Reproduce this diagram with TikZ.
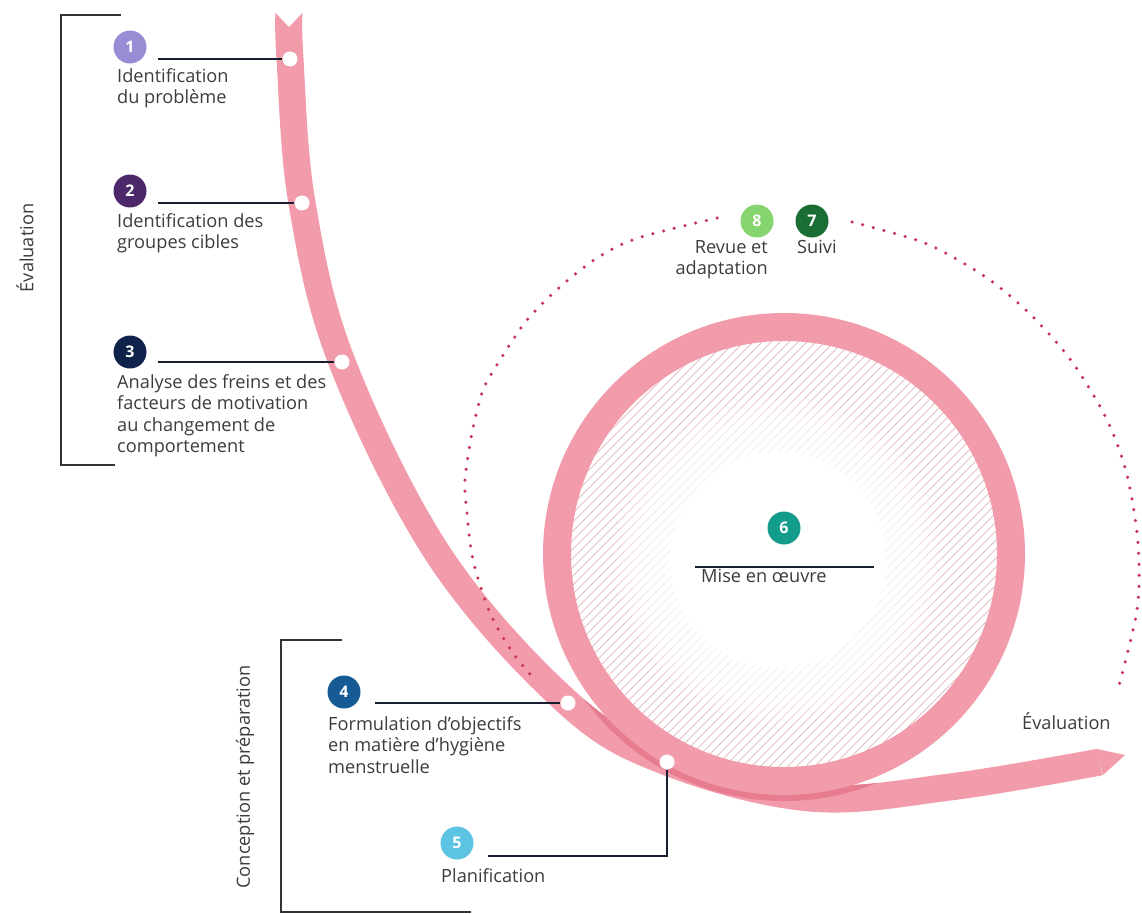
\documentclass[tikz,border=0pt]{standalone}
\usepackage{fontspec}
\setmainfont{Open Sans}
\definecolor{ribboncol}{RGB}{242,155,170}
\definecolor{shadecol}{RGB}{232,124,143}
\definecolor{hatchcol}{RGB}{228,190,197}
\definecolor{dotcol}{RGB}{200,52,82}
\definecolor{leadcol}{RGB}{24,30,50}
\definecolor{brackcol}{RGB}{50,50,50}
\definecolor{textgray}{RGB}{60,60,64}
\definecolor{bonecol}{RGB}{152,140,212}
\definecolor{btwocol}{RGB}{76,40,106}
\definecolor{bthreecol}{RGB}{14,34,74}
\definecolor{bfourcol}{RGB}{22,90,150}
\definecolor{bfivecol}{RGB}{92,196,226}
\definecolor{bsixcol}{RGB}{20,156,140}
\definecolor{bsevencol}{RGB}{26,110,52}
\definecolor{beightcol}{RGB}{134,212,110}

\begin{document}
\begin{tikzpicture}[x=1pt,y=-1pt,
    badge/.style={circle, fill=#1, text=white, minimum size=33pt, inner sep=0pt,
      font=\fontsize{16}{16}\selectfont\bfseries},
    txt/.style={inner sep=0pt, align=left, text=textgray,
      font=\fontsize{18.2}{21.6}\selectfont},
    knot/.style={circle, fill=white, minimum size=15pt, inner sep=0pt},
    leader/.style={draw=leadcol, line width=2pt},
    bracket/.style={draw=brackcol, line width=1.4pt},
    band/.style={line width=27pt},
    hatch/.style={draw=hatchcol, line width=1pt},
    dots/.style={draw=dotcol, line width=3.5pt, line cap=round, dash pattern=on 0pt off 11pt}]
  \useasboundingbox (0,0) rectangle (1142,913);

  \coordinate (c) at (784,554);
  \coordinate (c6) at (778,560);

  \begin{scope}
    \clip (c) circle (214);
    \foreach \i in {-50,...,50}
      \draw[hatch] (c) ++(\i*9,0) ++(-260,260) -- ++(520,-520);
  \end{scope}
  \fill[white] (c6) circle (108);
  \foreach \r in {112,116,...,164}
    \fill[white, opacity=0.13] (c6) circle (\r);

  \draw[band, draw=ribboncol] plot[smooth, tension=0.6] coordinates {(289,11) (290,59) (302,203) (342,362) (440,557) (568,703) (667,762) (810,798) (950,787) (1100,762)};
  \fill[white] (273,10) -- (305,10) -- (289,27) -- cycle;
  \fill[ribboncol] (1097,749) -- (1125,755) -- (1103,775) -- cycle;

  \begin{scope}
    \clip (c) circle (247);
    \clip (540,690) rectangle (900,830);
    \draw[band, draw=shadecol] plot[smooth, tension=0.6] coordinates {(289,11) (290,59) (302,203) (342,362) (440,557) (568,703) (667,762) (810,798) (950,787) (1100,762)};
  \end{scope}

  \draw[draw=ribboncol, line width=28pt] (c) circle (227);

  \draw[dots] plot[smooth] coordinates {(717,218) (638,238) (597,258) (560,287) (527,320) (500,360) (483,390) (472,433) (465,480) (467,513) (473,560) (490,613) (513,653) (537,682)};
  \draw[dots] plot[smooth] coordinates {(852,222) (907,237) (940,250) (990,280) (1033,317) (1073,363) (1107,420) (1127,475) (1138,543) (1137,610) (1117,693)};

  \draw[bracket] (121,15) -- (61,15) -- (61,465) -- (115,465);
  \draw[bracket] (342,640) -- (281,640) -- (281,912) -- (471,912);
  \node[txt, rotate=90] (ev) at (25,248) {Évaluation};
  \node[txt, rotate=90] (cp) at (245,777) {Conception et préparation};

  \node[knot] (k1) at (290,59) {};
  \node[knot] (k2) at (302,203) {};
  \node[knot] (k3) at (342,362) {};
  \node[knot] (k4) at (568,703) {};
  \node[knot] (k5) at (667,762) {};

  \coordinate (s1) at (158,59);
  \coordinate (s2) at (158,203);
  \coordinate (s3) at (158,362);
  \coordinate (s4) at (375,703);
  \coordinate (s5) at (488,856);
  \coordinate (s6) at (695,567);
  \coordinate (e6) at (874,567);

  \draw[leader] (s1) -- (k1.west);
  \draw[leader] (s2) -- (k2.west);
  \draw[leader] (s3) -- (k3.west);
  \draw[leader] (s4) -- (k4.west);
  \draw[leader] (s5) -| (k5.south);
  \draw[leader] (s6) -- (e6);

  \node[badge=bonecol] (b1) at (130,47) {1};
  \node[badge=btwocol] (b2) at (130,191) {2};
  \node[badge=bthreecol] (b3) at (130,352) {3};
  \node[badge=bfourcol] (b4) at (344,692) {4};
  \node[badge=bfivecol] (b5) at (457,843) {5};
  \node[badge=bsixcol] (b6) at (784,528) {6};
  \node[badge=bsevencol] (b7) at (812,221) {7};
  \node[badge=beightcol] (b8) at (757,221) {8};

  \node[txt, anchor=north west] (t1) at (117,68) {Identification\\du problème};
  \node[txt, anchor=north west] (t2) at (117,213) {Identification des\\groupes cibles};
  \node[txt, anchor=north west] (t3) at (117,374) {Analyse des freins et des\\facteurs de motivation\\au changement de\\comportement};
  \node[txt, anchor=north west] (t4) at (328,716) {Formulation d’objectifs\\en matière d’hygiène\\menstruelle};
  \node[txt, anchor=north west] (t5) at (441,868) {Planification};
  \node[txt, anchor=north west] (t6) at (701,569) {Mise en œuvre};
  \node[txt, anchor=north west] (t7) at (797,240) {Suivi};
  \node[txt, anchor=north east, align=right] (t8) at (768,240) {Revue et\\adaptation};
  \node[txt, anchor=north west] (t9) at (1022,712) {Évaluation};
\end{tikzpicture}
\end{document}
